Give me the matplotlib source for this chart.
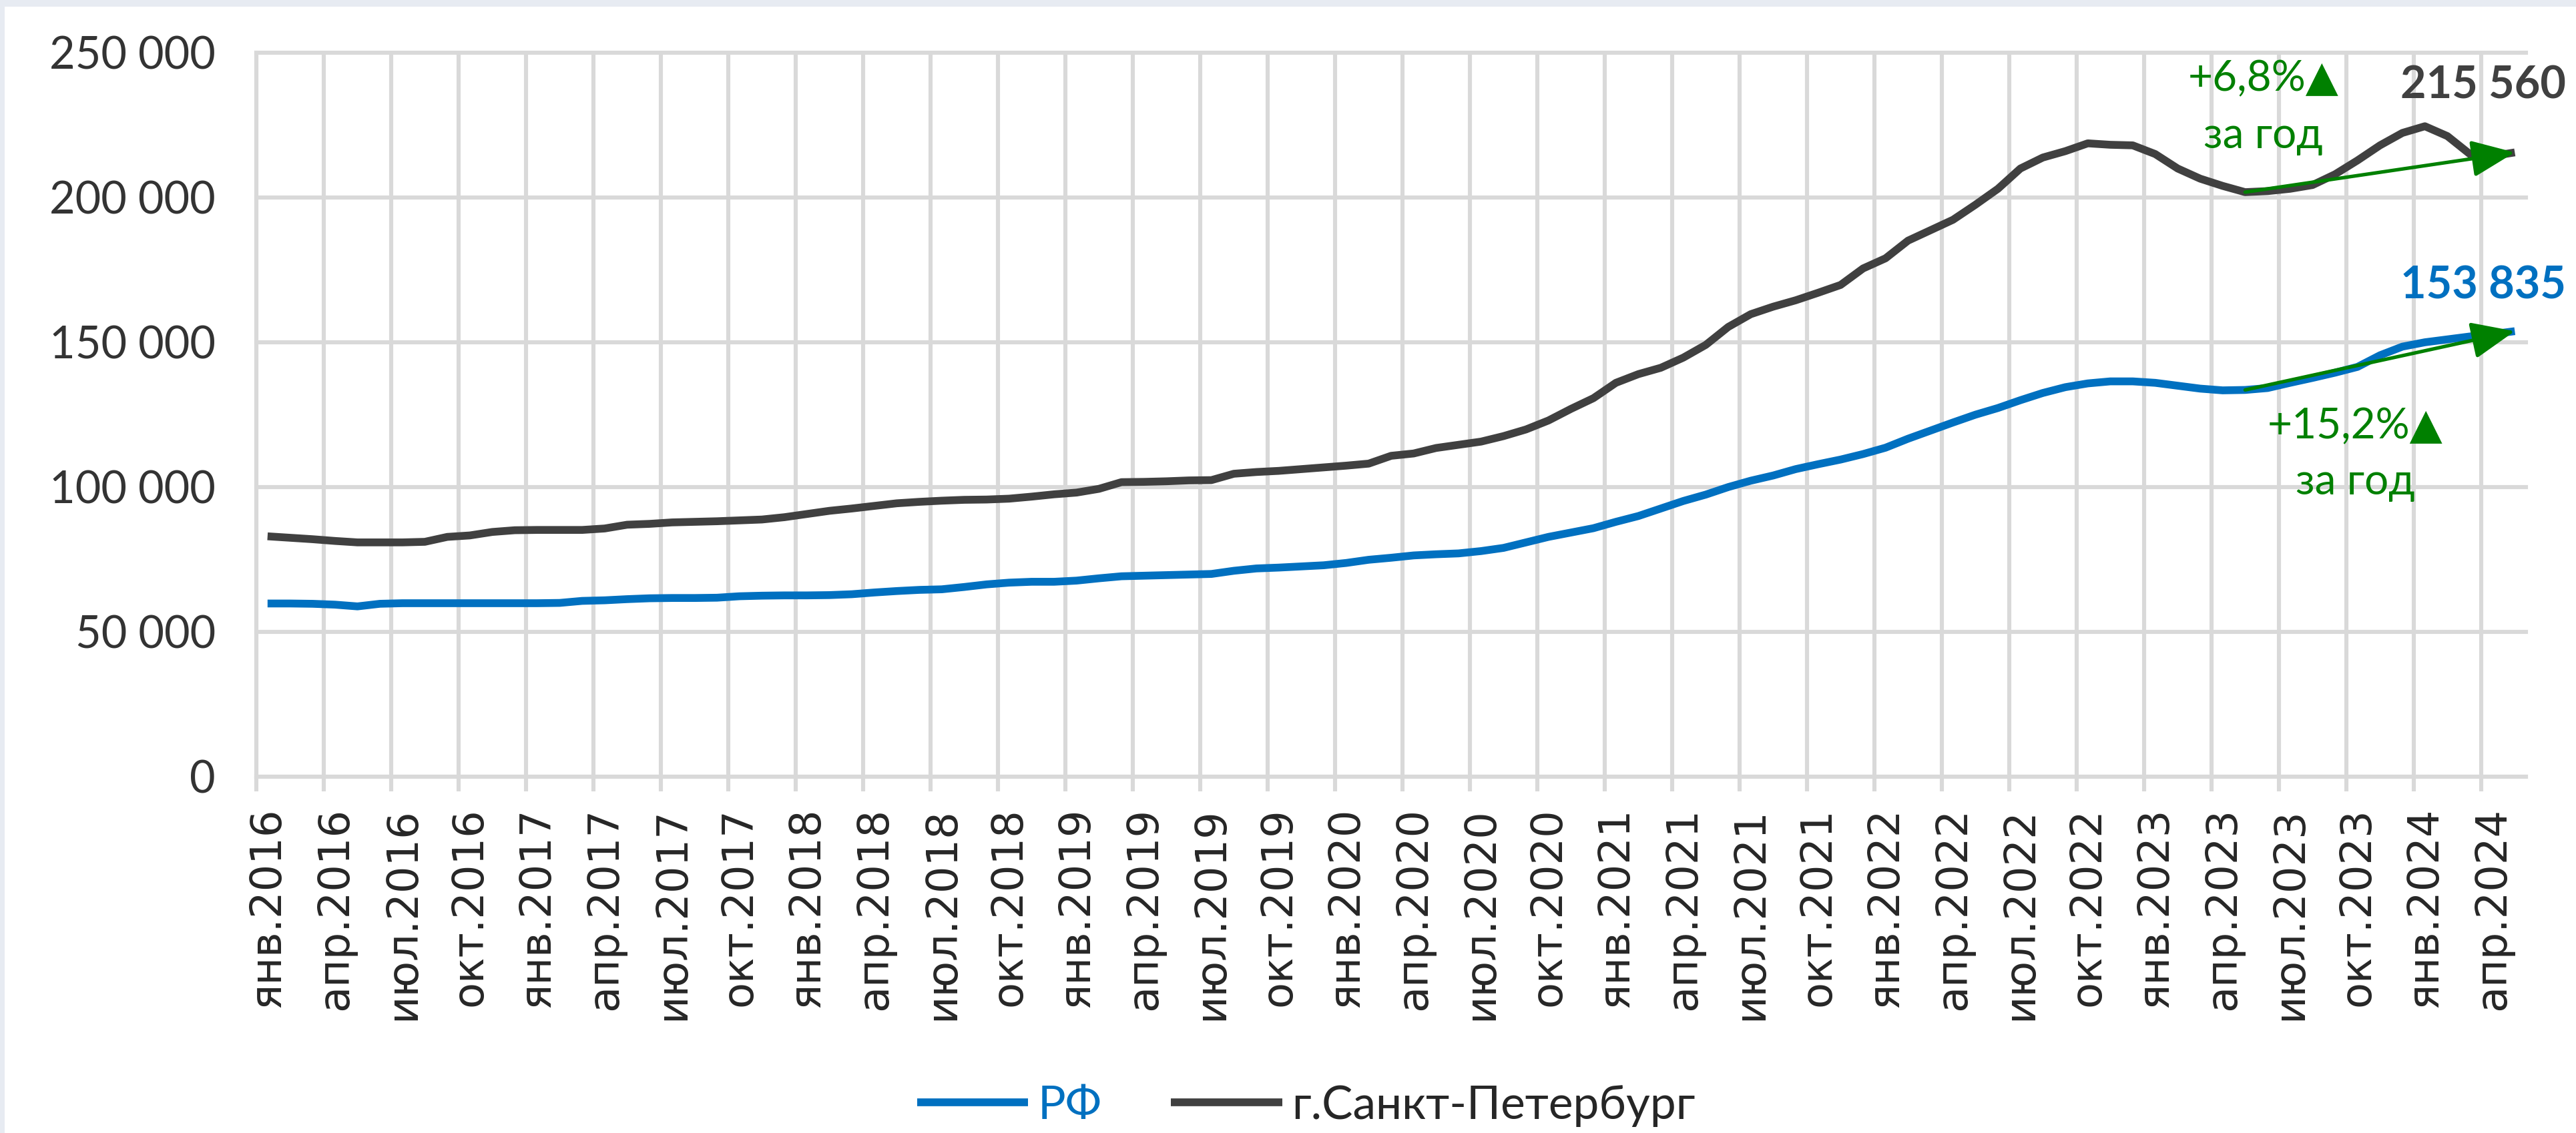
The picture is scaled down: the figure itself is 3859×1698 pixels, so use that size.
import numpy as np
import matplotlib
matplotlib.use("Agg")
import matplotlib.pyplot as plt
from matplotlib.patches import Rectangle, FancyArrowPatch
from matplotlib.ticker import FixedLocator, FuncFormatter

# ── Данные: средняя зарплата, руб., янв.2016 – май.2024 ─────────────────────
MESYATSY = ["янв", "фев", "мар", "апр", "май", "июн",
            "июл", "авг", "сен", "окт", "ноя", "дек"]
KATEGORII = [f"{MESYATSY[k % 12]}.{2016 + k // 12}" for k in range(101)]

RF = [59800, 59800, 59700, 59400, 58800, 59700, 59900, 59900, 59900, 59900,
      59900, 59900, 59900, 60000, 60700, 60900, 61300, 61600, 61700, 61700,
      61800, 62300, 62500, 62600, 62600, 62700, 63000, 63600, 64100, 64500,
      64700, 65500, 66400, 67000, 67300, 67300, 67700, 68500, 69200, 69400,
      69600, 69800, 70000, 71100, 71900, 72200, 72600, 73000, 73800, 74900,
      75600, 76400, 76800, 77100, 77900, 79000, 80900, 82800, 84300, 85800,
      88000, 90000, 92600, 95200, 97400, 100000, 102200, 104000, 106200, 107900,
      109500, 111400, 113600, 116700, 119500, 122300, 125000, 127300, 130000, 132500,
      134500, 135800, 136500, 136500, 136000, 135000, 134000, 133400, 133540, 134200,
      136000, 137700, 139500, 141500, 145500, 148500, 150000, 151000, 152000, 152800,
      153835]

SPB = [83000, 82500, 82000, 81400, 80900, 80900, 80900, 81100, 82800, 83300,
       84500, 85100, 85200, 85200, 85200, 85700, 87000, 87300, 87800, 88000,
       88200, 88500, 88800, 89600, 90700, 91800, 92600, 93500, 94400, 94900,
       95300, 95600, 95700, 96000, 96700, 97500, 98100, 99400, 101700, 101800,
       102000, 102300, 102400, 104600, 105200, 105600, 106200, 106800, 107400, 108100,
       110800, 111600, 113500, 114600, 115700, 117600, 119900, 123000, 127000, 130700,
       136000, 139000, 141200, 144700, 149100, 155300, 159700, 162300, 164500, 167100,
       169800, 175500, 179000, 185100, 188700, 192300, 197500, 203000, 210000, 213800,
       216000, 218700, 218200, 218000, 215000, 210000, 206500, 204000, 201840, 202200,
       203000, 204300, 208000, 212800, 218000, 222300, 224600, 221200, 215000, 214300,
       215560]

ROST_RF = "+15,2%▲"
ROST_SPB = "+6,8%▲"

# ── Стиль ───────────────────────────────────────────────────────────────────
COR_RF = "#0070C0"
COR_SPB = "#404040"
COR_VERDE = "#008000"
COR_GRADE = "#D9D9D9"
FONTE = ["Lato", "DejaVu Sans"]


def fmt(v, _pos=None):
    return f"{int(v):,}".replace(",", " ")


fig = plt.figure(figsize=(3859 / 200, 1698 / 200), dpi=200, facecolor="white")
# светлые полосы по краям скриншота (сверху и слева)
fig.patches.append(Rectangle((0, 1 - 10 / 1698), 1, 10 / 1698, transform=fig.transFigure,
                             facecolor="#E7EBF2", edgecolor="none"))
fig.patches.append(Rectangle((0, 0), 7 / 3859, 1, transform=fig.transFigure,
                             facecolor="#E7EBF2", edgecolor="none"))

ax = fig.add_axes([0.0995, 0.3145, 0.8811, 0.639])
x = np.arange(len(RF))

ax.plot(x, RF, color=COR_RF, lw=4.2, solid_joinstyle="round", solid_capstyle="butt",
        label="РФ", zorder=3)
ax.plot(x, SPB, color=COR_SPB, lw=4.2, solid_joinstyle="round", solid_capstyle="butt",
        label="г.Санкт-Петербург", zorder=3)

ax.set_xlim(-0.5, len(RF) - 0.5)
ax.set_ylim(0, 250000)

# ось Y
ax.yaxis.set_major_locator(FixedLocator(np.arange(0, 250001, 50000)))
ax.yaxis.set_major_formatter(FuncFormatter(fmt))
ax.tick_params(axis="y", length=0, pad=22, labelsize=24, labelcolor="#333333")
for t in ax.get_yticklabels():
    t.set_family(FONTE)

# ось X: подписи каждые 3 месяца, сетка по границам категорий
ax.set_xticks(x[::3])
ax.set_xticklabels(KATEGORII[::3], rotation=90, fontsize=23, color="#262626",
                   family="DejaVu Sans")
ax.xaxis.set_minor_locator(FixedLocator(np.arange(-0.5, len(RF) - 1, 3)))
ax.tick_params(axis="x", which="major", length=0, pad=16.5)
ax.tick_params(axis="x", which="minor", length=8, width=2.2, color=COR_GRADE,
               direction="out")

ax.grid(axis="y", which="major", color=COR_GRADE, lw=2.2, zorder=0)
ax.grid(axis="x", which="minor", color=COR_GRADE, lw=2.2, zorder=0)
ax.set_axisbelow(True)
for lado in ("top", "right"):
    ax.spines[lado].set_visible(False)
for lado in ("left", "bottom"):
    ax.spines[lado].set_color(COR_GRADE)
    ax.spines[lado].set_linewidth(2.2)
for gl in ax.get_ygridlines():
    gl.set_clip_on(False)

# стрелки годового прироста (май 2023 -> май 2024)
i0, i1 = len(RF) - 13, len(RF) - 1
for serie in (SPB, RF):
    seta = FancyArrowPatch((x[i0], serie[i0]), (x[i1], serie[i1]),
                           arrowstyle="-|>,head_length=20,head_width=8.5",
                           mutation_scale=1, lw=1.9, color=COR_VERDE,
                           shrinkA=0, shrinkB=0, zorder=4)
    ax.add_patch(seta)

# подписи последних значений
ax.text(98.6, 238500, fmt(SPB[-1]), ha="center", va="center", fontsize=24,
        fontweight="bold", color=COR_SPB, family=FONTE, clip_on=False)
ax.text(98.6, 169400, fmt(RF[-1]), ha="center", va="center", fontsize=24,
        fontweight="bold", color=COR_RF, family=FONTE, clip_on=False)

# прирост за год
ax.text(88.8, 241000, ROST_SPB, ha="center", va="center", fontsize=23,
        color=COR_VERDE, family=FONTE)
ax.text(88.8, 221300, "за год", ha="center", va="center", fontsize=23,
        color=COR_VERDE, family=FONTE)
ax.text(92.9, 120800, ROST_RF, ha="center", va="center", fontsize=23,
        color=COR_VERDE, family=FONTE)
ax.text(92.9, 101500, "за год", ha="center", va="center", fontsize=23,
        color=COR_VERDE, family=FONTE)

leg = ax.legend(loc="center", bbox_to_anchor=(0.507, 0.024),
                bbox_transform=fig.transFigure, ncol=2, frameon=False,
                handlelength=2.4, handletextpad=0.2, columnspacing=1.5,
                prop={"family": FONTE, "size": 25})
leg.get_texts()[0].set_color(COR_RF)
leg.get_texts()[1].set_color("#262626")

fig.savefig("out.png", dpi=200, facecolor="white")
